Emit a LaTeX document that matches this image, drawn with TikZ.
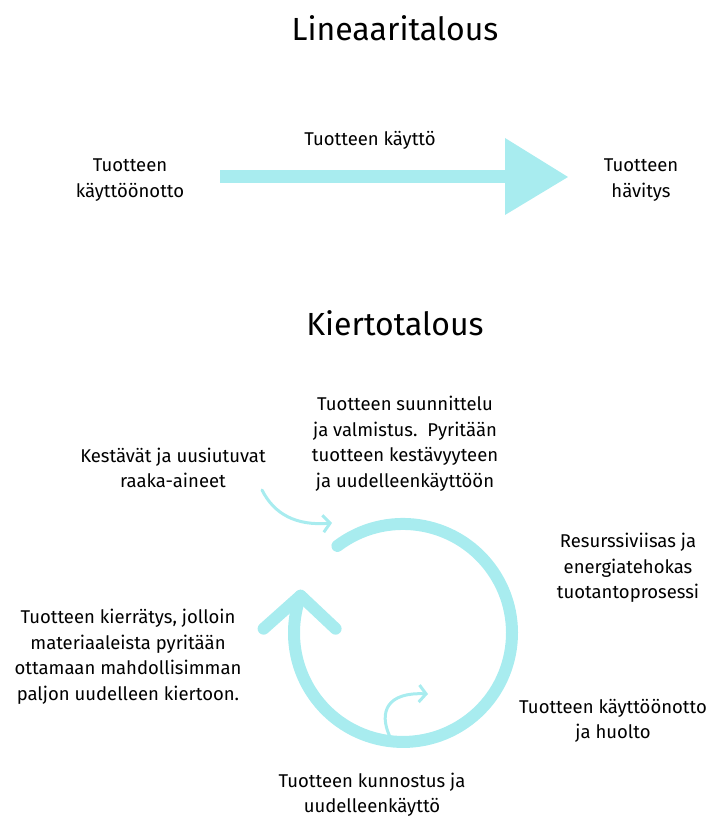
\documentclass[tikz,border=0pt]{standalone}
\usepackage{fontspec}
\setmainfont{Fira Sans}
\usetikzlibrary{arrows.meta}
\definecolor{kierto}{RGB}{168,236,239}

\begin{document}
\begin{tikzpicture}[x=1pt,y=1pt,
  txt/.style={align=center,font=\fontsize{18.5}{25.5}\selectfont,inner sep=0pt},
  otsikko/.style={font=\fontsize{32}{36}\selectfont,inner sep=0pt},
  ohut/.style={kierto,line width=3,line cap=round,-{Straight Barb[length=7,width=17,line width=3]}}]
\useasboundingbox (0,0) rectangle (712,816);

% Lineaaritalous
\node[otsikko] (lin) at (395,788) {Lineaaritalous};
\node[txt] (kaytto) at (370,676) {Tuotteen käyttö};
\node[txt] (alku) at (130,636) {Tuotteen\\käyttöönotto};
\node[txt] (loppu) at (641,636) {Tuotteen\\hävitys};

\coordinate (varsi1) at (220,639);
\coordinate (varsi2) at (505,639);
\coordinate (karki) at (568,639);
\fill[kierto] ([yshift=-6.5]varsi1) rectangle ([yshift=6.5]varsi2);
\fill[kierto] ([yshift=39]varsi2) -- (karki) -- ([yshift=-38]varsi2) -- cycle;

% Kiertotalous
\node[otsikko] (kier) at (395,493) {Kiertotalous};
\node[txt] (suunn) at (405,372) {Tuotteen suunnittelu\\ja valmistus.\ \ Pyritään\\tuotteen kestävyyteen\\ja uudelleenkäyttöön};
\node[txt] (raaka) at (173,348) {Kestävät ja uusiutuvat\\raaka-aineet};
\node[txt] (prosessi) at (628,248) {Resurssiviisas ja\\energiatehokas\\tuotantoprosessi};
\node[txt] (kierr) at (128,159) {Tuotteen kierrätys, jolloin\\materiaaleista pyritään\\ottamaan mahdollisimman\\paljon uudelleen kiertoon.};
\node[txt] (huolto) at (613,95) {Tuotteen käyttöönotto\\ja huolto};
\node[txt] (kunnostus) at (372,21) {Tuotteen kunnostus ja\\uudelleenkäyttö};

% keskipiste (403,183), r=109
% r*cos(127)=-65.6; r*sin(127)=87.1
\coordinate (O) at (403,183);
\coordinate (kaari_alku) at ([shift={(-65.6,87.1)}] O);
\draw[kierto,line width=12,line cap=round] (kaari_alku) arc (127:-200:109);
% r*cos(160)=-102.4; r*sin(160)=37.3
\coordinate (kaari_loppu) at ([shift={(-102.4,37.3)}] O);
\draw[kierto,line width=12,line cap=round,line join=round]
  ([shift={(-37,-33)}] kaari_loppu) -- (kaari_loppu) -- ([shift={(35,-33)}] kaari_loppu);

% pienet nuolet
\coordinate (n1) at (262,326);
\coordinate (n2) at (332,293);
\draw[ohut] (n1) .. controls (274,302) and (296,290) .. (n2);
\coordinate (n3) at (390,79);
\coordinate (n4) at (428,122);
\draw[ohut] (n3) .. controls (378,105) and (388,124) .. (n4);
\end{tikzpicture}
\end{document}
